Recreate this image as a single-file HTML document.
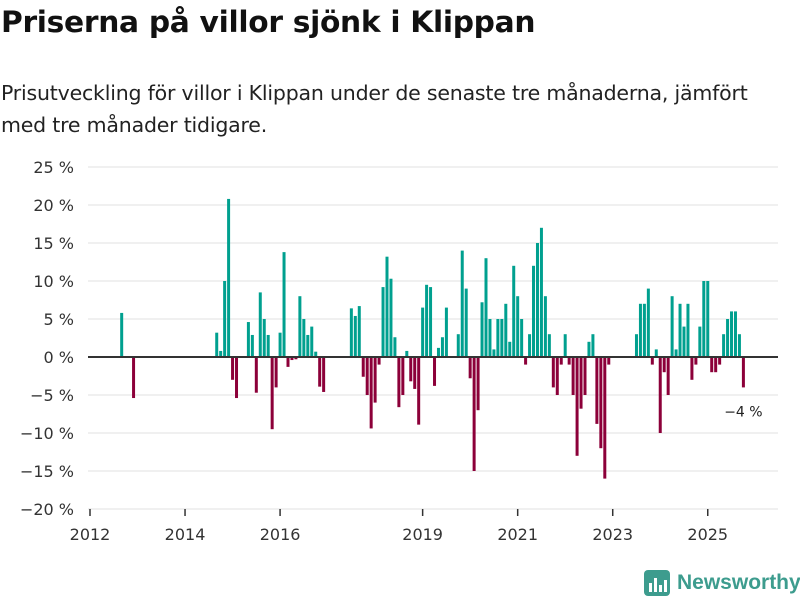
<!DOCTYPE html>
<html><head><meta charset="utf-8"><style>
body{margin:0;width:800px;height:600px;background:#fff;font-family:"Liberation Sans",sans-serif;overflow:hidden;position:relative}
h1{position:absolute;left:1px;top:5px;margin:0;font-family:"DejaVu Sans",sans-serif;font-size:29.7px;font-weight:bold;color:#111;letter-spacing:-0.3px}
.sub{position:absolute;left:1px;top:77px;margin:0;font-family:"DejaVu Sans",sans-serif;font-size:20.5px;line-height:32px;color:#222;width:780px;letter-spacing:-0.2px}
svg{position:absolute;left:0;top:0}
</style></head><body>
<h1>Priserna på villor sjönk i Klippan</h1>
<p class="sub">Prisutveckling för villor i Klippan under de senaste tre månaderna, jämfört med tre månader tidigare.</p>
<svg id="c" width="800" height="600"></svg>
<script>
const startYear = 2012;
const values = [
null,null,null,null,null,null,null,null,5.8,null,null,-5.4,
null,null,null,null,null,null,null,null,null,null,null,null,
null,null,null,null,null,null,null,null,3.2,0.8,10,20.8,
-3,-5.4,null,null,4.6,2.9,-4.7,8.5,5.0,2.9,-9.5,-4,
3.2,13.8,-1.3,-0.4,-0.3,8,5,2.9,4,0.7,-3.9,-4.6,
null,null,null,null,null,null,6.4,5.4,6.7,-2.6,-5,-9.4,
-6,-1,9.2,13.2,10.3,2.6,-6.6,-5,0.8,-3.2,-4.2,-8.9,
6.5,9.5,9.2,-3.8,1.2,2.6,6.5,null,null,3,14,9,
-2.8,-15,-7,7.2,13,5,1,5,5,7,2,12,
8,5,-1,3,12,15,17,8,3,-4,-5,-1,
3,-1,-5,-13,-6.8,-5,2,3,-8.8,-12,-16,-1,
null,null,null,null,null,null,3,7,7,9,-1,1,
-10,-2,-5,8,1,7,4,7,-3,-1,4,10,
10,-2,-2,-1,3,5,6,6,3,-4];
const yTicks = [25,20,15,10,5,0,-5,-10,-15,-20];
const xTickYears = [2012,2014,2016,2019,2021,2023,2025];
const lastLabel = "−4 %";

const NS="http://www.w3.org/2000/svg", svg=document.getElementById('c');
const x0=90, pxPerMonth=3.96;
function xScale(m){return x0+m*pxPerMonth;}
function yScale(v){return 357-v*7.6;}
function mk(t,a){const e=document.createElementNS(NS,t);for(const k in a)e.setAttribute(k,a[k]);svg.appendChild(e);return e;}
const fmt=v=>(v<0?"−"+(-v):v)+" %";
yTicks.forEach(v=>{
  if(v!==0){const g=mk('line',{x1:88,x2:778,y1:yScale(v),y2:yScale(v),stroke:'#e2e2e2','stroke-width':1});
  
  }
  const t=mk('text',{x:74,y:yScale(v)+6,'text-anchor':'end','font-size':16,fill:'#333','font-family':'DejaVu Sans, sans-serif'});
  t.textContent=fmt(v);
  
  
});
values.forEach((v,m)=>{
  if(v===null)return;
  const y=v>=0?yScale(v):yScale(0), h=Math.abs(yScale(v)-yScale(0));
  const r=mk('rect',{x:xScale(m)-1.5,y:y,width:3,height:h,fill:v>=0?'#00a08f':'#8c0039'});
  
  
});
const z=mk('line',{x1:88,x2:778,y1:yScale(0),y2:yScale(0),stroke:'#333','stroke-width':2});


xTickYears.forEach(yr=>{
  const x=xScale((yr-startYear)*12);
  const tk=mk('line',{x1:x,x2:x,y1:509,y2:516,stroke:'#333','stroke-width':1.5});
  
  
  const t=mk('text',{x:x,y:540,'text-anchor':'middle','font-size':16,fill:'#333','font-family':'DejaVu Sans, sans-serif'});
  t.textContent=yr;
  
  
});
const lm=values.length-1;
const ll=mk('text',{x:xScale(lm),y:yScale(values[lm])+29,'text-anchor':'middle','font-size':14,fill:'#222','font-family':'DejaVu Sans, sans-serif'});
ll.textContent=lastLabel;


</script>
<div style="position:absolute;left:644px;top:570px;display:flex;align-items:center">
<svg width="26" height="26" style="position:static"><rect x="0" y="0" width="26" height="26" rx="4" fill="#3d9c8e"/><rect x="5" y="13" width="3" height="9" fill="#fff"/><rect x="10" y="8" width="3" height="14" fill="#fff"/><rect x="15" y="15" width="3" height="7" fill="#fff"/><rect x="20" y="10" width="3" height="12" fill="#fff"/></svg>
<span style="margin-left:7px;font-size:21px;font-weight:bold;color:#3d9c8e">Newsworthy</span></div>
</body></html>
